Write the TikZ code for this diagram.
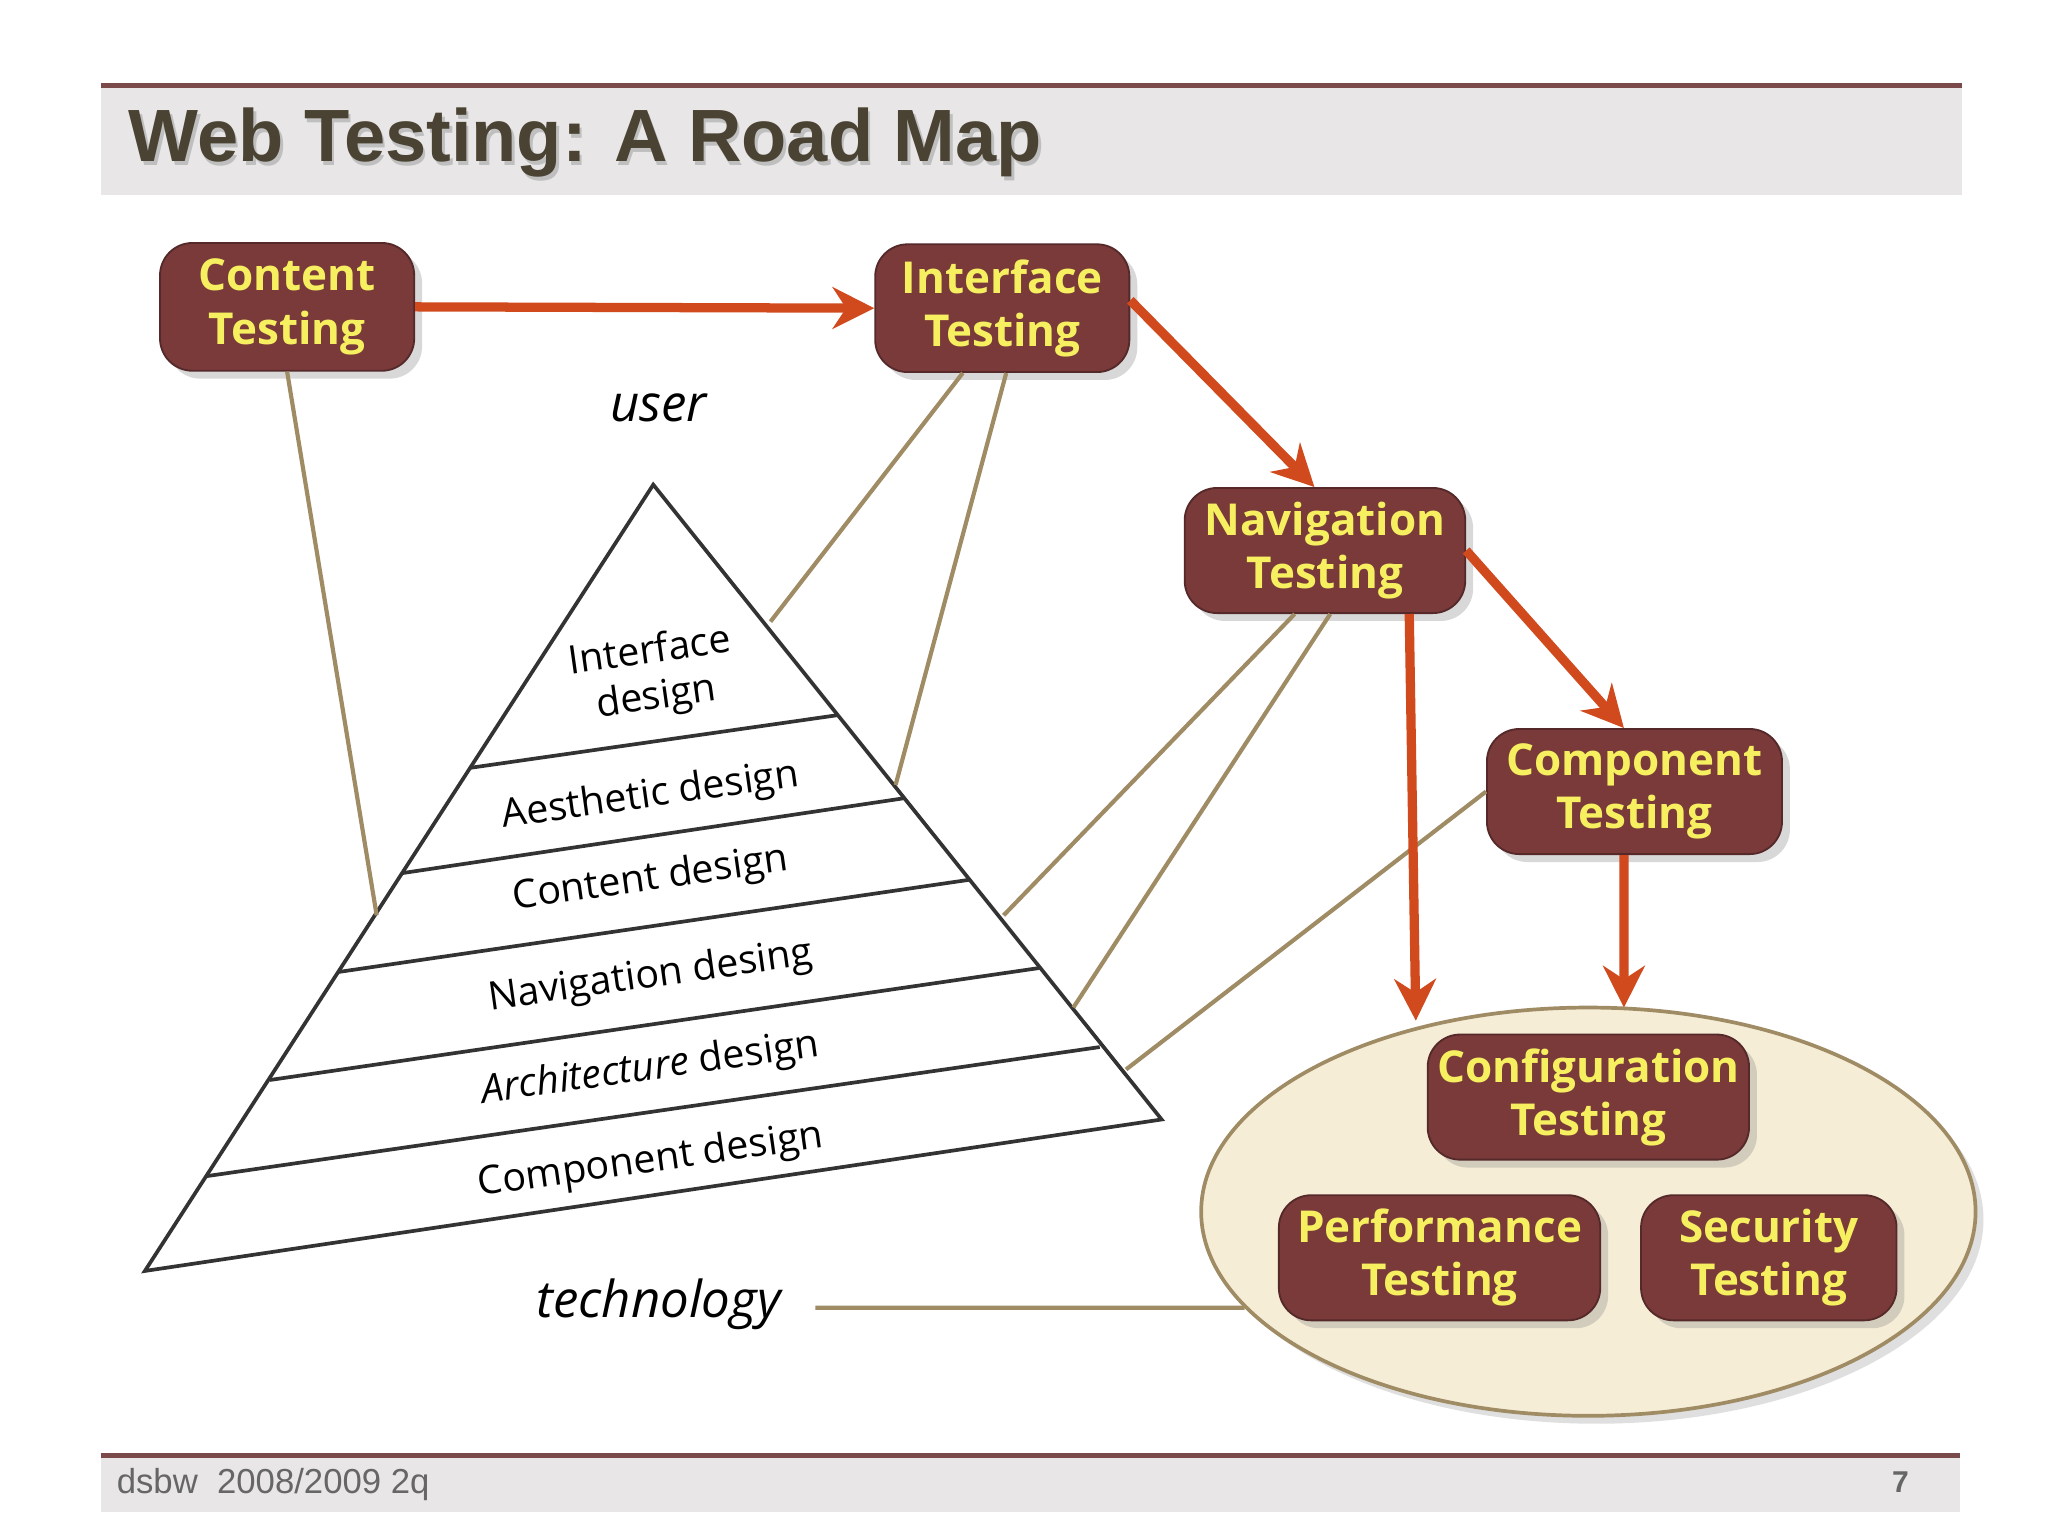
\documentclass[tikz,border=0pt]{standalone}
\usepackage{fontspec}
\setmainfont{Open Sans}
\newfontfamily\arialf{Liberation Sans}
\usetikzlibrary{shapes.geometric,arrows.meta,shadows}
\definecolor{boxfill}{HTML}{7A3A3A}
\definecolor{boxtext}{HTML}{F6F060}
\definecolor{tan}{HTML}{A08C64}
\definecolor{arr}{HTML}{D04A1E}
\definecolor{band}{HTML}{E8E6E6}
\definecolor{bandline}{HTML}{7A4A4A}
\definecolor{titlec}{HTML}{4A4232}
\tikzset{
 tbox/.style={draw=boxfill!70!black,fill=boxfill,rounded corners=7pt,text=boxtext,font=\fontsize{9.5}{11.5}\selectfont\bfseries,align=center,inner sep=0pt,drop shadow={opacity=0.3,shadow xshift=0.6mm,shadow yshift=-0.6mm}},
 tl/.style={draw=tan,line width=0.9pt},
 ra/.style={draw=arr,line width=2pt,-{Stealth[length=9pt,width=9pt]}},
 lay/.style={font=\fontsize{8.5}{10}\selectfont,rotate=8,align=center},
}
\begin{document}
\begin{tikzpicture}[x=0.1mm,y=-0.1mm]
\useasboundingbox (0,0) rectangle (1555,1166);
\fill[white] (0,0) rectangle (1555,1166);
% title band
\fill[band] (77,65) rectangle (1490,148);
\draw[bandline,line width=1pt] (77,65) -- (1490,65);
\node[anchor=west,font=\arialf\fontsize{16}{18}\selectfont\bfseries,text=black!25,inner sep=0] (ts) at (99,111) {Web Testing: A Road Map};
\node[anchor=west,font=\arialf\fontsize{16}{18}\selectfont\bfseries,text=titlec,inner sep=0] (title) at (97,108) {Web Testing: A Road Map};
% footer
\fill[band] (77,1105) rectangle (1488,1148);
\draw[bandline,line width=1pt] (77,1105) -- (1488,1105);
\node[anchor=west,font=\arialf\fontsize{7.5}{9}\selectfont,text=black!60,inner sep=0] (foot) at (88,1127) {dsbw\ \ 2008/2009 2q};
\node[font=\arialf\fontsize{6.5}{8}\selectfont\bfseries,text=black!60,inner sep=0] (pg) at (1443,1125) {7};
% ellipse
\node[ellipse,draw=tan,fill=brown!15!white!95!yellow,minimum width=58.8mm,minimum height=31mm,inner sep=0,line width=0.8pt,drop shadow={opacity=0.25,shadow xshift=0.6mm,shadow yshift=-0.6mm}] (ell) at (1206,920) {};
% pyramid
\coordinate (apex) at (496,368);
\coordinate (bl) at (110,965);
\coordinate (br) at (882,850);
\draw[black!80,line width=0.8pt,fill=white] (apex) -- (bl) -- (br) -- cycle;
\draw[black!80,line width=0.8pt] (357,583) -- (636,543);
\draw[black!80,line width=0.8pt] (305,663) -- (687,606);
\draw[black!80,line width=0.8pt] (257,738) -- (736,668);
\draw[black!80,line width=0.8pt] (205,820) -- (789,735);
\draw[black!80,line width=0.8pt] (157,893) -- (835,795);
\node[lay] (l1) at (496,513) {Interface\\design};
\node[lay] (l2) at (494,605) {Aesthetic design};
\node[lay] (l3) at (494,668) {Content design};
\node[lay] (l4) at (494,742) {Navigation desing};
\node[lay] (l5) at (494,812) {\textit{Architecture} design};
\node[lay] (l6) at (494,882) {Component design};
\node[font=\fontsize{11}{13}\selectfont\itshape] (user) at (500,310) {user};
\node[font=\fontsize{11}{13}\selectfont\itshape] (tech) at (500,990) {technology};
% boxes
\node[tbox,minimum width=19.3mm,minimum height=9.7mm] (ct) at (218,233) {Content\\Testing};
\node[tbox,minimum width=19.3mm,minimum height=9.7mm] (it) at (761,234) {Interface\\Testing};
\node[tbox,minimum width=21.3mm,minimum height=9.5mm] (nt) at (1006,418) {Navigation\\Testing};
\node[tbox,minimum width=22.4mm,minimum height=9.5mm] (cpt) at (1241,601) {Component\\Testing};
\node[tbox,minimum width=24.4mm,minimum height=9.5mm] (cft) at (1206,833) {Configuration\\Testing};
\node[tbox,minimum width=24.4mm,minimum height=9.5mm] (pt) at (1093,955) {Performance\\Testing};
\node[tbox,minimum width=19.4mm,minimum height=9.5mm] (st) at (1343,955) {Security\\Testing};
% tan connectors
\coordinate (p1) at (286,695);
\coordinate (p2) at (585,472);
\coordinate (p3) at (680,596);
\coordinate (p4) at (762,695);
\coordinate (p5) at (815,765);
\coordinate (p6) at (855,812);
\coordinate (e1) at (945,993);
\draw[tl] (ct.south) -- (p1);
\draw[tl] ([xshift=-3mm]it.south) -- (p2);
\draw[tl] ([xshift=0.3mm]it.south) -- (p3);
\draw[tl] ([xshift=-2.3mm]nt.south) -- (p4);
\draw[tl] ([xshift=0.4mm]nt.south) -- (p5);
\draw[tl] (cpt.west) -- (p6);
\draw[tl] ([shift={(1.4mm,-0.3mm)}]tech.east) -- (e1);
% red arrows
\coordinate (a1) at (1075,775);
\coordinate (a2) at (1233,765);
\draw[ra] (ct.east) -- (it.west);
\draw[ra] ([yshift=0.6mm]it.east) -- ([xshift=-0.8mm]nt.north);
\draw[ra] (nt.east) -- ([xshift=-0.8mm]cpt.north);
\draw[ra] ([xshift=6.4mm]nt.south) -- (a1);
\draw[ra] ([xshift=-0.8mm]cpt.south) -- (a2);
\end{tikzpicture}
\end{document}
